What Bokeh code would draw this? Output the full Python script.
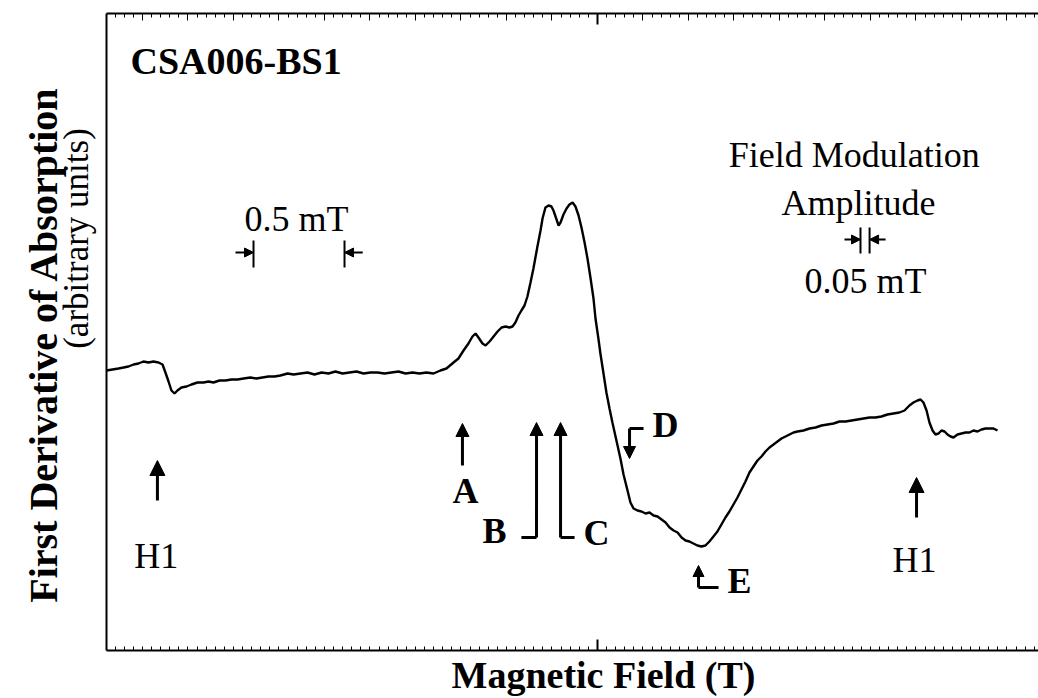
from math import pi
from bokeh.plotting import figure
from bokeh.models import Range1d, LinearAxis, FixedTicker, Label, Arrow, NormalHead
from bokeh.embed import file_html
from bokeh.resources import INLINE

# ---- data: relative magnetic field (mT) and first-derivative signal (arb. units) ----
field_mT = [
    -2.698, -2.665, -2.632, -2.604, -2.577, -2.549, -2.522, -2.495, -2.467, -2.440,
    -2.412, -2.390, -2.374, -2.357, -2.341, -2.324, -2.308, -2.286, -2.258, -2.231,
    -2.198, -2.165, -2.137, -2.110, -2.077, -2.044, -2.011, -1.978, -1.945, -1.907,
    -1.874, -1.841, -1.808, -1.775, -1.742, -1.703, -1.670, -1.632,
    -1.593, -1.555, -1.516, -1.478, -1.440, -1.401, -1.363, -1.324, -1.286, -1.247,
    -1.209, -1.170, -1.132, -1.093, -1.055, -1.016, -0.978, -0.940, -0.901, -0.863, -0.830,
    -0.791, -0.764, -0.736, -0.709, -0.687, -0.670, -0.654, -0.632, -0.615, -0.593,
    -0.571, -0.549, -0.527, -0.505, -0.484, -0.467,
    -0.451, -0.434, -0.418, -0.401, -0.385, -0.368, -0.352, -0.341, -0.330, -0.313, -0.302, -0.286,
    -0.269, -0.253, -0.242, -0.225, -0.214, -0.203, -0.187, -0.170, -0.154, -0.137, -0.121,
    -0.104, -0.088, -0.071, -0.055, -0.038, -0.022, -0.011, 0.005, 0.016,
    0.033, 0.049, 0.066, 0.082, 0.104, 0.126, 0.143, 0.165, 0.181, 0.198,
    0.220, 0.242, 0.264, 0.286, 0.308, 0.330, 0.352, 0.374, 0.396, 0.418, 0.440, 0.462,
    0.484, 0.505, 0.527, 0.549,
    0.571, 0.593, 0.615, 0.637, 0.659, 0.681, 0.703, 0.725, 0.747, 0.769, 0.791, 0.813,
    0.835, 0.857, 0.879, 0.901, 0.923, 0.945, 0.967, 0.989, 1.011, 1.033, 1.055, 1.077, 1.099,
    1.132, 1.165, 1.198, 1.231, 1.264, 1.297, 1.330, 1.363, 1.396, 1.429, 1.462, 1.495,
    1.527, 1.560, 1.593, 1.626, 1.659,
    1.687, 1.714, 1.736, 1.758, 1.775, 1.791, 1.808, 1.824, 1.841, 1.857, 1.874, 1.890,
    1.907, 1.923, 1.940, 1.956, 1.978, 2.000, 2.022, 2.044, 2.066, 2.088, 2.110, 2.132,
    2.154, 2.176, 2.198,
]
signal = [
    0.2, 0.3, 0.4, 0.5, 0.6, 0.8, 0.9, 1.1, 1.0, 1.1,
    1.0, 0.8, 0.0, -0.9, -1.8, -2.1, -1.8, -1.5, -1.4, -1.2,
    -1.0, -1.0, -0.9, -1.0, -0.8, -0.8, -0.7, -0.7, -0.6, -0.5,
    -0.6, -0.5, -0.4, -0.4, -0.3, -0.1, -0.2, -0.1,
    0.0, -0.2, 0.0, -0.1, 0.1, -0.1, 0.0, 0.1, -0.1, 0.0,
    0.0, -0.1, 0.0, 0.1, -0.1, 0.0, -0.1, 0.0, -0.1, 0.2, 0.4,
    1.0, 1.4, 2.2, 2.9, 3.6, 3.9, 3.5, 2.9, 2.7, 3.1,
    3.6, 4.1, 4.5, 4.6, 4.5, 4.6,
    5.0, 5.7, 6.2, 6.7, 7.6, 9.0, 10.4, 11.5, 12.6, 14.2, 15.4, 16.5,
    16.7, 16.6, 16.2, 15.3, 14.7, 15.0, 15.8, 16.4, 16.8, 17.0, 16.6,
    15.7, 14.5, 13.0, 11.4, 9.4, 7.4, 5.4, 3.4, 1.9,
    -0.1, -2.0, -3.6, -5.0, -6.8, -8.6, -10.2, -11.8, -13.0, -13.6,
    -13.8, -13.9, -14.1, -14.0, -14.3, -14.4, -14.7, -15.0, -15.5, -15.8, -16.0, -16.5,
    -16.8, -16.9, -17.1, -17.3,
    -17.4, -17.3, -16.9, -16.4, -15.9, -15.2, -14.5, -13.9, -13.2, -12.5, -11.7, -10.9,
    -10.0, -9.4, -8.8, -8.4, -7.9, -7.5, -7.2, -6.9, -6.6, -6.4, -6.2, -6.0, -5.9,
    -5.8, -5.6, -5.5, -5.3, -5.2, -5.1, -4.9, -4.9, -4.8, -4.7, -4.6, -4.5,
    -4.5, -4.4, -4.2, -4.1, -4.0,
    -3.8, -3.3, -3.0, -2.8, -2.7, -3.0, -3.8, -5.0, -5.8, -6.2, -6.1, -5.8,
    -5.9, -6.2, -6.4, -6.5, -6.2, -6.1, -6.0, -6.0, -5.8, -5.9, -5.7, -5.6,
    -5.6, -5.6, -5.8,
]
assert len(field_mT) == len(signal)

sample_name = "CSA006-BS1"
x_title = "Magnetic Field (T)"
y_title = "First Derivative of Absorption"
y_subtitle = "(arbitrary units)"

# plotting box (data units) inside a frame that covers the whole canvas
BOX_X0, BOX_X1 = -2.698, 2.4231
BOX_Y0, BOX_Y1 = -27.8, 35.9
SERIF = "Liberation Serif"

p = figure(width=1038, height=698, output_backend="svg", toolbar_location=None,
           x_range=Range1d(-3.2802, 2.4231), y_range=Range1d(-32.6, 37.2),
           x_axis_location=None, y_axis_location=None, min_border=0,
           background_fill_color="white", border_fill_color="white")
p.outline_line_color = None
p.grid.visible = False

minor_ticks = [round(0.05 * k, 2) for k in range(-53, 49)]
medium_ticks = [round(0.25 * k, 2) for k in range(-10, 10) if k != 0]


def box_axis(side, loc, bounds, ticks, tick_len, tick_w, line):
    ax = LinearAxis(ticker=FixedTicker(ticks=[], minor_ticks=ticks),
                    fixed_location=loc, bounds=bounds)
    ax.major_tick_in = 0
    ax.major_tick_out = 0
    ax.minor_tick_in = tick_len
    ax.minor_tick_out = 0
    ax.minor_tick_line_width = tick_w
    ax.minor_tick_line_color = "black" if ticks else None
    ax.major_tick_line_color = None
    ax.axis_line_width = 2
    ax.axis_line_color = "black" if line else None
    p.add_layout(ax, side)


xb = (BOX_X0, BOX_X1)
yb = (BOX_Y0, BOX_Y1)
box_axis("below", BOX_Y0, xb, minor_ticks, 4, 1, True)
box_axis("below", BOX_Y0, xb, [0.0], 11, 2, False)
box_axis("above", BOX_Y1, xb, minor_ticks, 4, 1, True)
box_axis("above", BOX_Y1, xb, medium_ticks, 7, 1, False)
box_axis("above", BOX_Y1, xb, [0.0], 11, 2, False)
box_axis("left", BOX_X0, yb, [], 0, 1, True)

p.line(field_mT, signal, line_width=2.4, line_color="black")


def label(text, x, y, size, bold=False, align="center", angle=0.0):
    p.add_layout(Label(x=x, y=y, text=text, text_font=SERIF, text_font_size=f"{size}px",
                       text_font_style="bold" if bold else "normal", text_color="black",
                       text_align=align, text_baseline="middle", angle=angle))


def arrow(x0, y0, x1, y1, head=13, width=3):
    p.add_layout(Arrow(end=NormalHead(size=head, fill_color="black", line_color="black", line_width=1),
                       x_start=x0, y_start=y0, x_end=x1, y_end=y1,
                       line_width=width, line_color="black"))


# titles
label(sample_name, -2.566, 31.18, 38, bold=True, align="left")
label(x_title, 0.033, -30.22, 38, bold=True)
label(y_title, -3.044, 2.8, 40, bold=True, angle=pi / 2)
label(y_subtitle, -2.863, 13.4, 35, angle=pi / 2)

# 0.5 mT scale bar
label("0.5 mT", -1.654, 15.32, 36)
for bx in (-1.89, -1.39):
    p.line([bx, bx], [10.5, 13.2], line_width=2, line_color="black")
arrow(-1.989, 12.0, -1.89, 12.0, head=9, width=2)
arrow(-1.290, 12.0, -1.39, 12.0, head=9, width=2)

# field modulation amplitude
label("Field Modulation", 1.411, 21.72, 36)
label("Amplitude", 1.434, 16.92, 36)
label("0.05 mT", 1.473, 9.12, 36)
for bx in (1.445, 1.495):
    p.line([bx, bx], [11.9, 14.5], line_width=2, line_color="black")
arrow(1.357, 13.3, 1.445, 13.3, head=9, width=2)
arrow(1.583, 13.3, 1.495, 13.3, head=9, width=2)

# H1 markers
arrow(-2.418, -12.8, -2.418, -8.8, head=15)
label("H1", -2.424, -18.39, 36)
arrow(1.753, -14.5, 1.753, -10.5, head=15)
label("H1", 1.742, -18.79, 36)

# A - E markers
arrow(-0.742, -9.3, -0.742, -5.1, head=13)
label("A", -0.725, -11.89, 36, bold=True)

p.line([-0.418, -0.335], [-16.5, -16.5], line_width=3, line_color="black")
arrow(-0.335, -16.5, -0.335, -5.0, head=13)
label("B", -0.566, -15.89, 36, bold=True)

p.line([-0.203, -0.126], [-16.5, -16.5], line_width=3, line_color="black")
arrow(-0.203, -16.5, -0.203, -5.0, head=13)
label("C", -0.005, -16.09, 36, bold=True)

p.line([0.176, 0.253], [-5.6, -5.6], line_width=3, line_color="black")
arrow(0.176, -5.6, 0.176, -8.6, head=12)
label("D", 0.374, -5.29, 36, bold=True)

p.line([0.555, 0.665], [-21.5, -21.5], line_width=3, line_color="black")
arrow(0.555, -21.5, 0.555, -19.3, head=11)
label("E", 0.780, -20.89, 36, bold=True)

open("out.html", "w").write(file_html(p, INLINE))
